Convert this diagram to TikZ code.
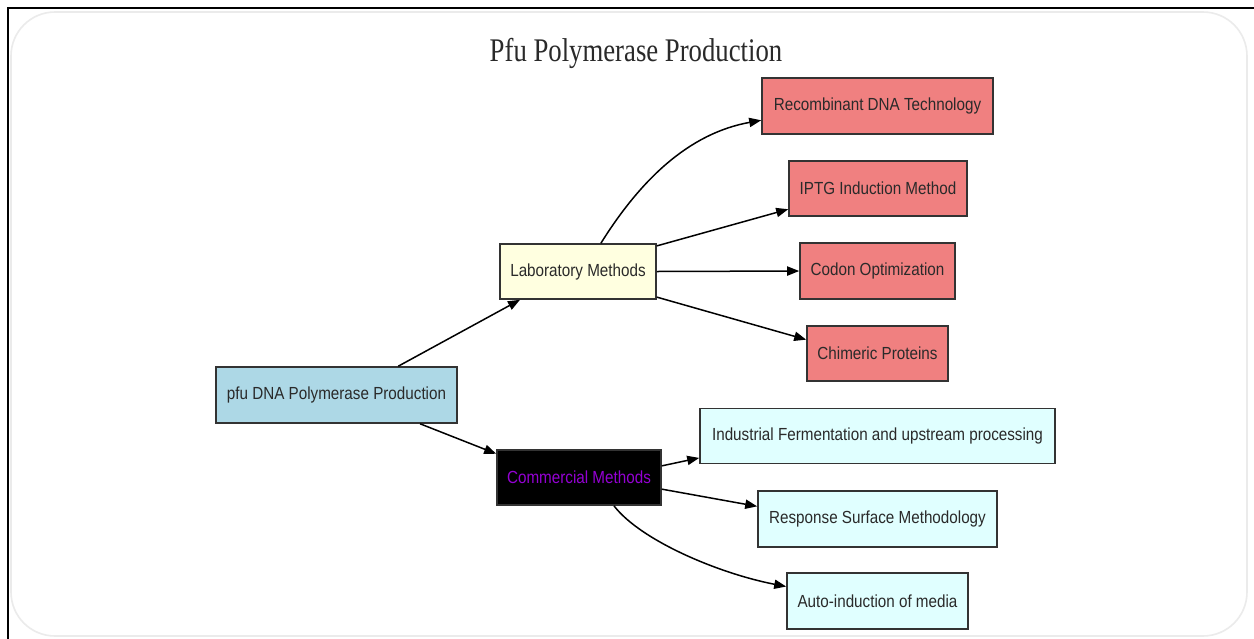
\documentclass[tikz,border=0pt]{standalone}
\usepackage{fontspec}
\usetikzlibrary{arrows.meta}
\newfontfamily\nodefont[FakeStretch=0.87]{Liberation Sans}
\newfontfamily\titlefont[FakeStretch=0.81]{Liberation Serif}
\definecolor{redbox}{HTML}{F08080}
\definecolor{yellowbox}{HTML}{FFFFE0}
\definecolor{bluebox}{HTML}{ADD8E6}
\definecolor{cyanbox}{HTML}{E0FFFF}
\definecolor{purpletext}{HTML}{9400D3}
\definecolor{boxline}{HTML}{333333}
\definecolor{txt}{HTML}{2A2A2A}
\definecolor{framegray}{HTML}{EBEBEB}
\begin{document}
\begin{tikzpicture}[x=0.5pt,y=-0.5pt,
  box/.style={draw=boxline, line width=0.8pt, inner sep=0pt, align=center,
    font=\nodefont\fontsize{8.75}{10}\selectfont, text=txt},
  sz/.style 2 args={minimum width=#1*0.5pt, minimum height=#2*0.5pt},
  redn/.style={box, fill=redbox},
  cyann/.style={box, fill=cyanbox},
  conn/.style={draw=black, line width=0.75pt, -{Triangle[length=6pt,width=4.6pt]}}
]
\useasboundingbox (0,0) rectangle (1254,638);
\fill[white] (0,0) rectangle (1254,638);
\draw[framegray, line width=0.8pt, rounded corners=22pt] (11,12) rectangle (1247,636);
\draw[black, line width=0.6pt] (8,640) -- (8,8) -- (1254,8);

\node[anchor=base, font=\titlefont\fontsize{16.5}{20}\selectfont, text=txt] (title) at (636,61) {Pfu Polymerase Production};

\node[box, fill=bluebox, sz={241}{56}] (root) at (336.5,395) {pfu DNA Polymerase Production};
\node[box, fill=yellowbox, sz={156}{55}] (lab) at (578,271.5) {Laboratory Methods};
\node[box, fill=black, text=purpletext, sz={164}{55}] (comm) at (579,477.5) {Commercial Methods};

\node[redn, sz={231}{56}] (rec) at (877.5,106) {Recombinant DNA Technology};
\node[redn, sz={178}{55}] (iptg) at (878,188.5) {IPTG Induction Method};
\node[redn, sz={155}{56}] (codon) at (877.5,271) {Codon Optimization};
\node[redn, sz={141}{55}] (chim) at (877.5,353.5) {Chimeric Proteins};

\node[cyann, sz={355}{55}] (ind) at (877.5,436) {Industrial Fermentation and upstream processing};
\node[cyann, sz={239}{56}] (resp) at (877.5,519) {Response Surface Methodology};
\node[cyann, sz={181}{56}] (auto) at (877.5,601) {Auto-induction of media};

\draw[conn] (root.25.7) -- (lab.206.6);
\draw[conn] (root.-19.1) -- (comm.164.7);

\draw[conn] (lab.51.3) .. controls +(40,-64) and +(-72,13) .. (rec.187.9);
\draw[conn] (lab.18) -- (iptg.193);
\draw[conn] (lab.east) -- (codon.west);
\draw[conn] (lab.-18) -- (chim.169.2);

\draw[conn] (comm.8) -- (ind.187.7);
\draw[conn] (comm.-8) -- (resp.174.7);
\draw[conn] (comm.-39) .. controls +(27,35) and +(-67,-13) .. (auto.171.8);
\end{tikzpicture}
\end{document}
